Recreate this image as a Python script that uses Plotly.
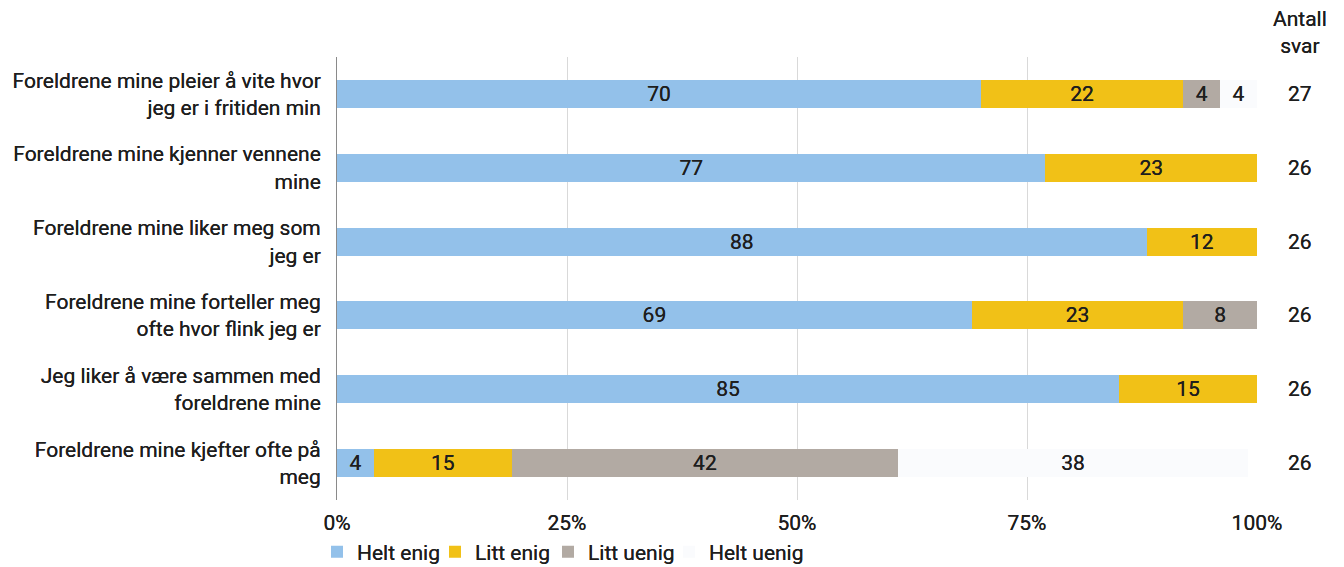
import plotly.graph_objects as go

# Survey statements (top to bottom)
statements = [
    "Foreldrene mine pleier å vite hvor<br>jeg er i fritiden min",
    "Foreldrene mine kjenner vennene<br>mine",
    "Foreldrene mine liker meg som<br>jeg er",
    "Foreldrene mine forteller meg<br>ofte hvor flink jeg er",
    "Jeg liker å være sammen med<br>foreldrene mine",
    "Foreldrene mine kjefter ofte på<br>meg",
]

# Percent shares per answer category (None = no answers)
helt_enig = [70, 77, 88, 69, 85, 4]
litt_enig = [22, 23, 12, 23, 15, 15]
litt_uenig = [4, None, None, 8, None, 42]
helt_uenig = [4, None, None, None, None, 38]

# Number of responses per statement
antall_svar = [27, 26, 26, 26, 26, 26]

x_ticks = [0, 25, 50, 75, 100]
x_tick_text = ["0%", "25%", "50%", "75%", "100%"]

# (name, values, colour, legend id, legend left edge in px)
series = [
    ("Helt enig", helt_enig, "#93C1EA", "legend", 317),
    ("Litt enig", litt_enig, "#F1C117", "legend2", 435),
    ("Litt uenig", litt_uenig, "#B2AAA3", "legend3", 548),
    ("Helt uenig", helt_uenig, "#FAFBFD", "legend4", 669),
]

font_family = "Roboto, Arial, sans-serif"
text_color = "#1E1E1E"
base_font = dict(family=font_family, size=21, color=text_color,
                 shadow="0px 0px 0.4px #1E1E1E")

# plot area in pixels
plot_left, plot_right, plot_top, plot_bottom = 337, 1257, 57, 500
fig_w, fig_h = 1344, 567


def px_to_paper_x(px):
    return (px - plot_left) / (plot_right - plot_left)


def px_to_paper_y(py):
    return (plot_bottom - py) / (plot_bottom - plot_top)


fig = go.Figure()
for name, values, color, legend_id, _ in series:
    fig.add_trace(go.Bar(
        y=statements,
        x=values,
        name=name,
        legend=legend_id,
        orientation="h",
        marker=dict(color=color, line=dict(width=0)),
        text=[("" if v is None else str(v)) for v in values],
        textposition="inside",
        insidetextanchor="middle",
        textangle=0,
        constraintext="none",
        textfont=base_font,
        width=0.38,
        hoverinfo="skip",
    ))

# Response counts to the right of the bars
for stmt, n in zip(statements, antall_svar):
    fig.add_annotation(
        x=px_to_paper_x(1300), xref="paper", y=stmt, yref="y",
        text=str(n), showarrow=False,
        font=base_font,
        xanchor="center", yanchor="middle",
    )

fig.add_annotation(
    x=px_to_paper_x(1300), xref="paper", y=px_to_paper_y(33), yref="paper",
    text="Antall<br>svar", showarrow=False,
    font=base_font,
    xanchor="center", yanchor="middle",
)

legend_common = dict(
    orientation="h",
    xanchor="left", xref="paper",
    y=1 - 552 / fig_h, yanchor="middle", yref="container",
    font=base_font,
    itemwidth=30,
    bgcolor="rgba(0,0,0,0)",
)

legends = {legend_id: dict(x=px_to_paper_x(left), **legend_common)
           for _, _, _, legend_id, left in series}

fig.update_layout(
    barmode="stack",
    width=fig_w, height=fig_h,
    margin=dict(l=plot_left, r=fig_w - plot_right, t=plot_top, b=fig_h - plot_bottom),
    paper_bgcolor="white",
    plot_bgcolor="white",
    font=base_font,
    showlegend=True,
    **legends,
)

fig.update_xaxes(
    range=[0, 100],
    tickvals=x_ticks,
    ticktext=x_tick_text,
    showgrid=True,
    gridcolor="#D9D9D9",
    gridwidth=1,
    zeroline=False,
    showline=False,
    ticks="",
    ticklabelstandoff=8,
    tickfont=base_font,
    automargin=False,
    fixedrange=True,
)

fig.update_yaxes(
    autorange="reversed",
    showline=True,
    linecolor="#8A8A8A",
    linewidth=1,
    showgrid=False,
    ticks="",
    ticklabelstandoff=11,
    tickfont=base_font,
    automargin=False,
    fixedrange=True,
)

fig.write_html("out.html")
